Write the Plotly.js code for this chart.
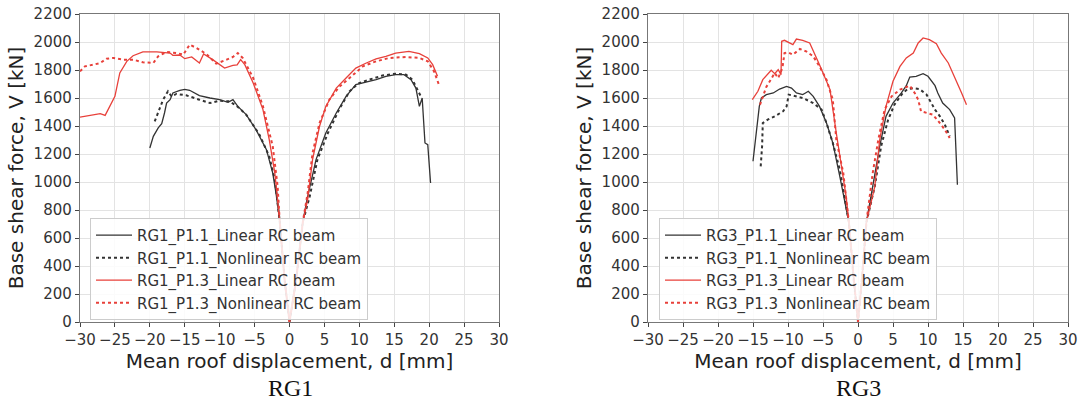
<!DOCTYPE html>
<html><head><meta charset="utf-8">
<script src="https://cdn.plot.ly/plotly-3.0.1.min.js"></script>
<style>html,body{margin:0;padding:0;background:#fff}#chart{width:1081px;height:401px}</style>
</head><body><div id="chart"></div>
<script>
// RG1 series
const rg1_p11_lin_d = [-20,-19.5,-18.8,-18.3,-17.9,-17.6,-17.1,-16.7,-15.7,-15,-14.3,-12.9,-11.4,-10,-8.8,-8.1,-7.4,-6.2,-4.8,-3.3,-2.4,-1.9,-1.4,-0.7,0,0.95,1.9,2.5,3.8,5.2,6.7,8.1,9.5,11,12.4,13.8,15.2,16.4,17.4,18.1,18.6,19,19.4,19.8,20.2];
const rg1_p11_lin_v = [1243,1326,1386,1417,1493,1564,1588,1636,1655,1662,1655,1617,1600,1588,1569,1588,1540,1481,1374,1231,1064,910,720,300,0,300,712,874,1160,1350,1493,1612,1695,1712,1731,1755,1767,1767,1731,1671,1540,1600,1279,1267,993];
const rg1_p11_nl_d = [-19.3,-18.8,-18.1,-17.4,-16.9,-16.2,-14.8,-12.9,-11.4,-10,-8.6,-7.6,-6.2,-4.3,-2.9,-2.1,-1.4,-0.7,0,0.95,1.9,2.9,4,5.5,7.1,8.6,9.8,11.4,13.3,15.2,16.7,17.6,18.3,18.8];
const rg1_p11_nl_v = [1433,1493,1588,1648,1612,1629,1619,1588,1564,1581,1576,1545,1481,1338,1183,1017,720,300,0,300,712,898,1160,1350,1517,1648,1702,1731,1760,1774,1767,1731,1664,1612];
const rg1_p13_lin_d = [-30,-28.6,-27.1,-26.4,-25.7,-25,-24.3,-23.3,-22.4,-21,-19,-17.1,-16.7,-15.7,-15,-14,-12.9,-12.3,-11,-9.3,-8.1,-7.5,-7,-6.4,-5.2,-3.8,-2.9,-2.1,-1.4,-0.7,0,0.95,1.9,2.6,3.3,4.3,5.2,6.7,8.1,9.5,11,12.4,13.8,15.2,17.1,18.6,19.8,20.5,21.2];
const rg1_p13_lin_v = [1464,1474,1488,1476,1540,1612,1779,1862,1902,1929,1929,1921,1905,1907,1881,1893,1850,1914,1874,1814,1833,1836,1874,1838,1707,1517,1302,1064,720,300,0,300,712,874,1160,1398,1540,1671,1743,1814,1850,1879,1898,1921,1933,1917,1886,1838,1755];
const rg1_p13_nl_d = [-30,-29.3,-28.1,-27.1,-26.2,-25.2,-23.8,-22.4,-21,-19.5,-18.8,-17.6,-16.2,-15.2,-14.3,-13.3,-11.9,-10.5,-9,-8.1,-7.4,-6.7,-5.2,-3.8,-2.4,-1.7,-1.4,-0.7,0,0.95,1.9,2.6,3.3,4.3,5.7,7.1,8.6,10.5,12.4,14.3,16.7,18.6,19.8,20.7,21.4];
const rg1_p13_nl_v = [1790,1826,1838,1850,1881,1886,1874,1874,1855,1850,1898,1929,1921,1910,1981,1957,1914,1845,1874,1893,1921,1886,1743,1540,1255,969,720,300,0,300,712,921,1207,1421,1588,1679,1743,1826,1862,1886,1893,1886,1862,1790,1695];
// RG3 series
const rg3_p11_lin_d = [-15,-14.5,-14.1,-13.8,-13.1,-12.1,-11.2,-10.2,-9.5,-8.8,-7.9,-7.5,-7.1,-6.4,-5.5,-4.5,-3.6,-2.6,-1.9,-1.3,-0.6,0,0.55,1.2,2.1,3.1,4,5,6.2,6.9,7.4,8.3,9.3,10,11,11.4,12.1,13.1,13.8,14,14.2];
const rg3_p11_lin_v = [1148,1350,1540,1600,1624,1636,1664,1683,1671,1636,1624,1636,1648,1612,1540,1421,1280,1040,874,712,300,0,300,712,969,1255,1469,1564,1636,1688,1750,1755,1774,1755,1688,1636,1564,1517,1457,1231,981];
const rg3_p11_nl_d = [-13.9,-13.7,-13.6,-12.9,-11.9,-10.7,-10.2,-9.9,-9.3,-7.9,-6.4,-5.2,-4.5,-3.6,-2.6,-1.9,-1.3,-0.6,0,0.55,1.2,2.4,3.3,4.3,5.2,6.4,7.1,7.9,8.8,9.8,10.5,11,11.7,12.4,12.9,13.1];
const rg3_p11_nl_v = [1112,1255,1421,1445,1469,1505,1540,1624,1617,1600,1564,1517,1421,1279,1088,874,712,300,0,300,712,969,1255,1445,1552,1636,1664,1671,1664,1624,1564,1517,1469,1410,1350,1326];
const rg3_p13_lin_d = [-15.1,-14.3,-13.6,-12.9,-12.4,-11.9,-11.4,-11,-10.9,-10.5,-9.8,-9.3,-8.8,-7.9,-6.9,-6.2,-5.5,-4.8,-4,-3.1,-2.4,-1.7,-1.3,-0.6,0,0.55,1.2,2.4,3.1,4,5,6,6.9,7.9,8.1,8.6,9.3,10.2,11.2,11.9,12.9,14,14.8,15.5];
const rg3_p13_lin_v = [1588,1648,1731,1774,1798,1774,1802,1767,2005,2012,1993,1981,2021,2012,1993,1921,1838,1755,1660,1350,1112,898,712,300,0,300,712,969,1302,1540,1719,1826,1886,1921,1945,1993,2029,2017,1988,1921,1850,1731,1636,1552];
const rg3_p13_nl_d = [-14,-13.6,-13.1,-12.6,-11.9,-11.4,-10.8,-10.5,-10,-9.3,-8.3,-7.4,-6.4,-5.5,-4.5,-3.6,-3.1,-2.1,-1.7,-1.3,-0.6,0,0.55,1.2,2.1,2.9,3.8,4.8,6,7.4,8.1,8.6,9,9.8,10.7,11.7,12.4,13.1];
const rg3_p13_nl_v = [1552,1612,1679,1719,1779,1743,1814,1921,1926,1910,1950,1933,1898,1826,1731,1588,1302,1064,898,712,300,0,300,712,1064,1302,1517,1612,1660,1688,1636,1588,1505,1493,1481,1421,1374,1314];

const xTickVals = [-30,-25,-20,-15,-10,-5,0,5,10,15,20,25,30];
const yTickVals = [0,200,400,600,800,1000,1200,1400,1600,1800,2000,2200];
const xTitle = 'Mean roof displacement, d [mm]';
const yTitle = 'Base shear force, V [kN]';
const captions = ['RG1','RG3'];

const BLACK = '#333333', RED = '#e8403a';
function tr(d, v, name, color, dash, xa, ya, lg) {
  return {x: d, y: v, name: name, type: 'scatter', mode: 'lines', xaxis: xa, yaxis: ya, legend: lg,
    line: {color: color, width: dash === 'solid' ? 1.3 : 2, dash: dash}};
}
const data = [
  tr(rg1_p11_lin_d, rg1_p11_lin_v, 'RG1_P1.1_Linear RC beam', BLACK, 'solid', 'x', 'y', 'legend'),
  tr(rg1_p11_nl_d, rg1_p11_nl_v, 'RG1_P1.1_Nonlinear RC beam', BLACK, 'dot', 'x', 'y', 'legend'),
  tr(rg1_p13_lin_d, rg1_p13_lin_v, 'RG1_P1.3_Linear RC beam', RED, 'solid', 'x', 'y', 'legend'),
  tr(rg1_p13_nl_d, rg1_p13_nl_v, 'RG1_P1.3_Nonlinear RC beam', RED, 'dot', 'x', 'y', 'legend'),
  tr(rg3_p11_lin_d, rg3_p11_lin_v, 'RG3_P1.1_Linear RC beam', BLACK, 'solid', 'x2', 'y2', 'legend2'),
  tr(rg3_p11_nl_d, rg3_p11_nl_v, 'RG3_P1.1_Nonlinear RC beam', BLACK, 'dot', 'x2', 'y2', 'legend2'),
  tr(rg3_p13_lin_d, rg3_p13_lin_v, 'RG3_P1.3_Linear RC beam', RED, 'solid', 'x2', 'y2', 'legend2'),
  tr(rg3_p13_nl_d, rg3_p13_nl_v, 'RG3_P1.3_Nonlinear RC beam', RED, 'dot', 'x2', 'y2', 'legend2')
];
const tickFont = {family: 'DejaVu Sans', size: 15, color: '#333'};
const titleFont = {family: 'DejaVu Sans', size: 20, color: '#222'};
function xax(domain, anchor) {
  return {domain: domain, anchor: anchor, range: [-30, 30], tickvals: xTickVals, ticks: 'outside', ticklen: 4,
    tickcolor: '#444', showgrid: true, gridcolor: '#e3e3e3', gridwidth: 1, zeroline: false,
    showline: true, linecolor: '#777', linewidth: 1.2, mirror: true, tickfont: tickFont,
    title: {text: xTitle, font: titleFont, standoff: 2}};
}
function yax(anchor) {
  return {domain: [0, 1], anchor: anchor, range: [0, 2200], tickvals: yTickVals, ticks: 'outside', ticklen: 4,
    tickcolor: '#444', showgrid: true, gridcolor: '#e3e3e3', gridwidth: 1, zeroline: false,
    showline: true, linecolor: '#777', linewidth: 1.2, mirror: true, tickfont: tickFont,
    title: {text: yTitle, font: titleFont, standoff: 4}};
}
const legendStyle = {bgcolor: 'rgba(255,255,255,0.85)', bordercolor: '#cccccc', borderwidth: 1,
  font: {family: 'DejaVu Sans', size: 15, color: '#333'}, xanchor: 'left', yanchor: 'top', tracegroupgap: 0, itemwidth: 36};
const layout = {
  width: 1081, height: 401, paper_bgcolor: '#fff', plot_bgcolor: '#fff',
  margin: {l: 0, r: 0, t: 14, b: 79},
  showlegend: true,
  xaxis: xax([80/1081, 499/1081], 'y'),
  yaxis: yax('x'),
  xaxis2: xax([648/1081, 1068/1081], 'y2'),
  yaxis2: yax('x2'),
  legend: Object.assign({x: 90/1081, y: 0.338}, legendStyle),
  legend2: Object.assign({x: 659/1081, y: 0.338}, legendStyle),
  annotations: [
    {text: captions[0], xref: 'paper', yref: 'paper', x: 290/1081, y: -0.214, showarrow: false,
      font: {family: 'Liberation Serif', size: 24, color: '#111'}, xanchor: 'center', yanchor: 'middle'},
    {text: captions[1], xref: 'paper', yref: 'paper', x: 858/1081, y: -0.214, showarrow: false,
      font: {family: 'Liberation Serif', size: 24, color: '#111'}, xanchor: 'center', yanchor: 'middle'}
  ]
};
Plotly.newPlot('chart', data, layout, {displayModeBar: false, staticPlot: true});
</script></body></html>
